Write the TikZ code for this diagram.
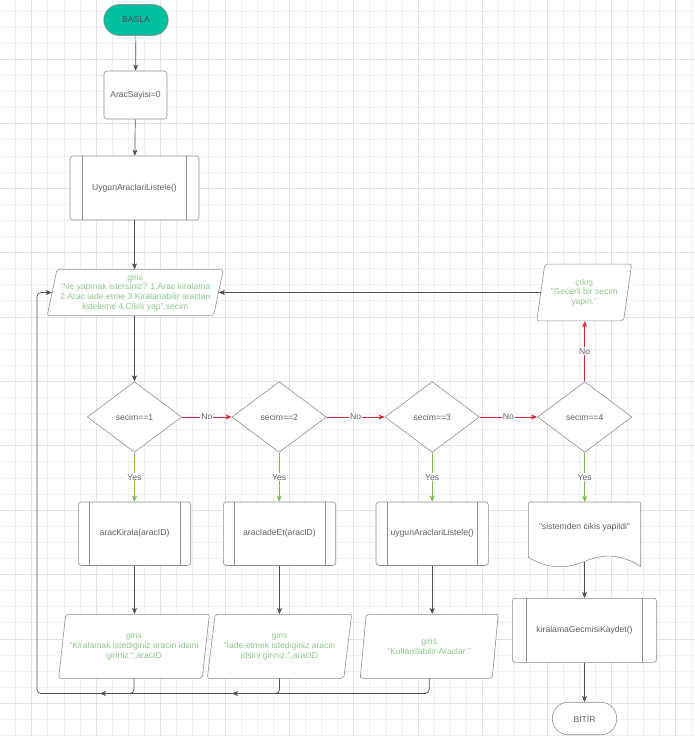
\documentclass[tikz,border=0pt]{standalone}
\usepackage{fontspec}
\setmainfont{Liberation Sans}
\usetikzlibrary{arrows.meta,shapes.geometric,calc}
\definecolor{gridminor}{HTML}{F0F0F0}
\definecolor{gridmajor}{HTML}{E2E2E2}
\definecolor{shapeline}{HTML}{8E8E8E}
\definecolor{wireline}{HTML}{4A5059}
\definecolor{txt}{HTML}{5B6068}
\definecolor{iotxt}{HTML}{8CC88A}
\definecolor{yesgreen}{HTML}{7DBB42}
\definecolor{nored}{HTML}{D52A33}
\definecolor{startfill}{HTML}{00C09E}
\begin{document}
\begin{tikzpicture}[x=1pt,y=-1pt,
  every node/.style={font=\fontsize{8.6}{9.6}\selectfont, text=txt, inner sep=0pt},
  terminal/.style={draw=shapeline, line width=0.6pt, rectangle, rounded corners=15.5pt,
    minimum width=64.4, minimum height=31},
  procbox/.style={draw=shapeline, line width=0.6pt, fill=white, rectangle, rounded corners=3pt},
  decision/.style={draw=shapeline, line width=0.6pt, fill=white, diamond, aspect=1.337,
    minimum width=94.4, minimum height=70.6},
  iobox/.style={draw=shapeline, line width=0.6pt, fill=white, trapezium,
    trapezium left angle=76, trapezium right angle=104, trapezium stretches=true,
    rounded corners=2pt, text=iotxt, align=center},
  wire/.style={draw=wireline, line width=0.7pt, -{Stealth[length=6pt,width=5pt,inset=1.5pt]}},
  yeswire/.style={draw=yesgreen, line width=0.9pt, -{Stealth[length=6pt,width=5pt,inset=1.5pt]}},
  nowire/.style={draw=nored, line width=0.9pt, -{Stealth[length=6pt,width=5pt,inset=1.5pt]}},
  edgelabel/.style={fill=white, inner sep=1pt, text=txt}
]
% page and grid
\fill[white] (0,0) rectangle (695,736);
\clip (0,0) rectangle (695,736);
\useasboundingbox (0,0) rectangle (695,736);
\foreach \i in {0,...,44} \draw[gridminor, line width=0.7pt] ({-0.5+16.1*\i},0) -- ++(0,736);
\foreach \i in {0,...,46} \draw[gridminor, line width=0.7pt] (0,{11+16.1*\i}) -- ++(695,0);
\foreach \i in {0,...,10} \draw[gridmajor, line width=0.7pt] ({31.7+64.4*\i},0) -- ++(0,736);
\foreach \i in {0,...,11} \draw[gridmajor, line width=0.7pt] (0,{-5.1+64.4*\i}) -- ++(695,0);

% start, initialisation and listing
\node[terminal, fill=startfill, text=txt!80!black] (start) at (136,20) {BASLA};
\node[procbox, minimum width=63, minimum height=48] (init) at (135.5,95) {AracSayisi=0};
\node[procbox, minimum width=129, minimum height=64] (uygun) at (134.5,188) {UygunAraclariListele()};

% menu input and invalid-choice output
\node[iobox, minimum width=176, minimum height=45.7] (menu) at (135.3,292.5)
  {giris\\"Ne yapmak istersiniz? 1.Arac kiralama\\2.Arac iade etme 3.Kiralanabilir araclari\\listeleme 4.Cikis yap",secim};
\node[iobox, minimum width=95, minimum height=56.7] (invalid) at (584.2,292.5)
  {çıkış\\"Gecerli bir secim\\yapin."};

% decisions
\node[decision] (d1) at (134.5,417) {secim==1};
\node[decision] (d2) at (279.2,417) {secim==2};
\node[decision] (d3) at (432.2,417) {secim==3};
\node[decision] (d4) at (584.7,417) {secim==4};

% subroutine boxes
\node[procbox, minimum width=112.4, minimum height=63.5] (kirala) at (134.5,533.7) {aracKirala(aracID)};
\node[procbox, minimum width=112.4, minimum height=63.5] (iade) at (279.5,533.7) {aracIadeEt(aracID)};
\node[procbox, minimum width=112.4, minimum height=63.5] (listele) at (432.2,533.7) {uygunAraclariListele()};
\node[procbox, minimum width=144.4, minimum height=64] (kaydet) at (584.5,630.3) {kiralamaGecmisiKaydet()};
\foreach \n/\d in {uygun/12.9, kirala/11.2, iade/11.2, listele/11.2, kaydet/14.4} {
  \draw[shapeline, line width=0.6pt] ($(\n.north west)+(\d,0)$) -- ($(\n.south west)+(\d,0)$);
  \draw[shapeline, line width=0.6pt] ($(\n.north east)+(-\d,0)$) -- ($(\n.south east)+(-\d,0)$);
}

% exit message document
\draw[shapeline, line width=0.6pt, fill=white, rounded corners=2pt]
  (528.3,502) -- (640.7,502) [rounded corners=0pt] -- (640.7,566.5)
  .. controls (620,553) and (602,554) .. (584.5,561.5)
  .. controls (566,569) and (546,569) .. (528.3,557) [rounded corners=2pt] -- cycle;
\node (cikis) at (584.5,527.3) {"sistemden cikis yapildi"};
\coordinate (cikisbot) at (584.5,561.5);
\coordinate (cikistop) at (584.5,502);

% data entry per choice
\node[iobox, minimum width=151, minimum height=64] (girKirala) at (134,646.3)
  {giris\\"Kiralamak istediginiz aracin idsini\\giriniz:",aracID};
\node[iobox, minimum width=144.4, minimum height=64] (girIade) at (279.5,646.3)
  {giris\\"Iade etmek istediginiz aracin\\idsini giriniz:",aracID};
\node[iobox, minimum width=138.3, minimum height=64] (girListe) at (429.2,646.3)
  {giris\\"Kullanilabilir Araclar:"};

% end
\node[terminal, fill=white, rounded corners=16pt, minimum height=32.5] (stop) at (584.5,718.5) {BİTİR};

% main flow
\draw[wire] (start) -- (init);
\draw[wire] (init) -- (uygun);
\draw[wire] (uygun) -- (menu.north -| uygun.south);
\draw[wire] (menu.south -| d1.north) -- (d1);

% choice chain
\draw[nowire] (d1.east) -- node[edgelabel] {No} (d2.west);
\draw[nowire] (d2.east) -- node[edgelabel] {No} (d3.west);
\draw[nowire] (d3.east) -- node[edgelabel] {No} (d4.west);
\draw[nowire] (d4.north) -- node[edgelabel] {No} (invalid.south -| d4.north);
\draw[wire] (invalid.left side) -- (menu.right side);

\draw[yeswire] (d1.south) -- node[edgelabel] {Yes} (kirala.north);
\draw[yeswire] (d2.south) -- node[edgelabel] {Yes} (iade.north -| d2.south);
\draw[yeswire] (d3.south) -- node[edgelabel] {Yes} (listele.north -| d3.south);
\draw[yeswire] (d4.south) -- node[edgelabel] {Yes} (cikistop -| d4.south);

\draw[wire] (kirala) -- (girKirala.north -| kirala.south);
\draw[wire] (iade) -- (girIade);
\draw[wire] (listele.south) -- (girListe.north -| listele.south);
\draw[wire] (cikisbot) -- (kaydet.north);
\draw[wire] (kaydet) -- (stop);

% return to the menu
\coordinate (loopcorner) at (37,693.5);
\coordinate (kiralaend) at (100,693.5);
\coordinate (iadeend) at (232,693.5);
\draw[wire, rounded corners=4pt] (girKirala.south) |- (kiralaend);
\draw[wire, rounded corners=4pt] (girIade.south) |- (iadeend);
\draw[wire, rounded corners=4pt] (girListe.south) |- (loopcorner) |- (menu.left side);
\end{tikzpicture}
\end{document}
